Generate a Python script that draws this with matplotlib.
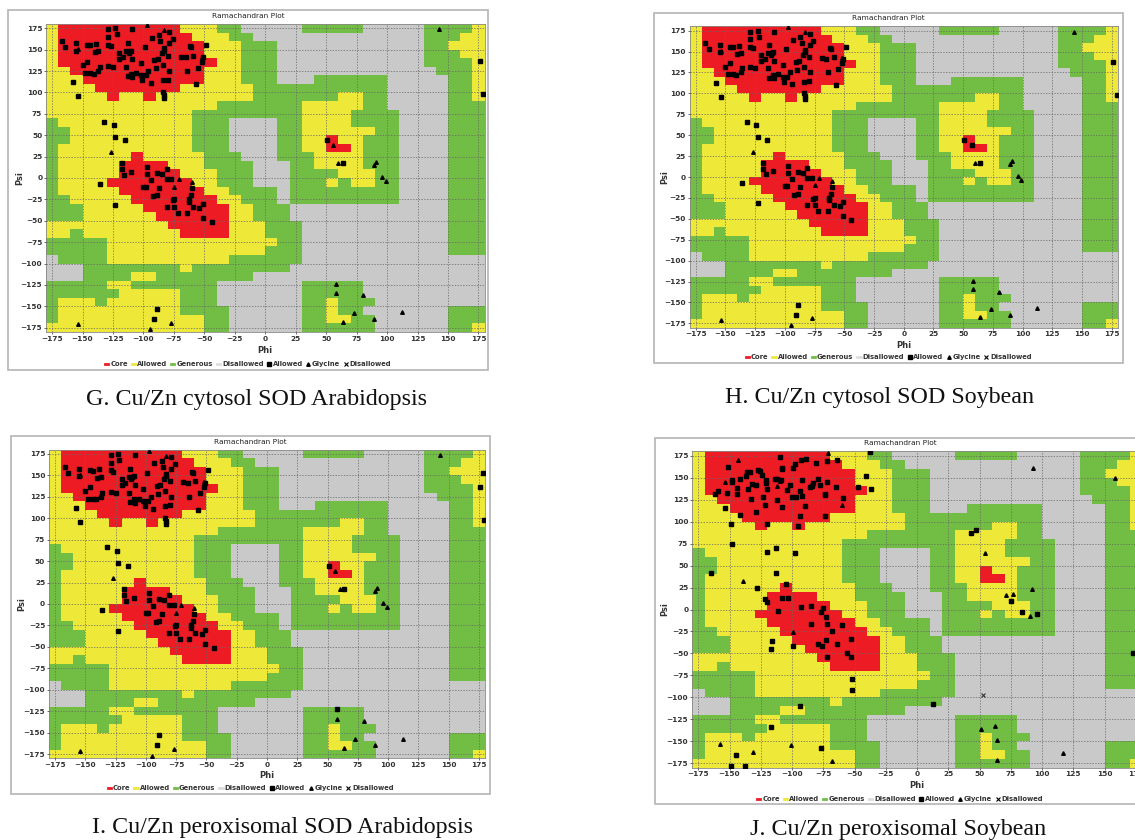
import re
import numpy as np
import matplotlib
matplotlib.use("Agg")
import matplotlib.pyplot as plt
from matplotlib.colors import ListedColormap
from matplotlib.lines import Line2D
from matplotlib.patches import Rectangle

W, H = 1135, 840

# Ramachandran region map, 10 degree cells.
# One row per psi band, from psi=+180 (top) down to -180, phi from -180 to 180.
# run-length coded: R core, Y allowed, G generous, D disallowed
region_rows = [
    "Y1R10Y3G2D5G5D5G4Y1",
    "Y1R11Y3G2D14G3Y2",
    "Y1R12Y3G3D12G2Y3",
    "Y1R12Y3G3D12G3Y2",
    "Y1R13Y2G3D12G4Y1",
    "Y2R11Y3G3D13G3Y1",
    "Y3R10Y3G3D3G6D5G2Y1",
    "Y4R7Y6G11D5G2Y1",
    "Y5R1Y2R1Y8G7Y2G2D5G2Y1",
    "Y14G7Y5G2D5G3",
    "Y12G9Y4G4D4G3",
    "G1Y11G3D4G2Y4G4D4G3",
    "G2Y10G3D4G2Y6G2D4G3",
    "G2Y10G3D4G2Y2R1Y2G3D4G3",
    "G1Y11G3D4G2Y2R2Y1G3D4G3",
    "G1Y6R1Y5G3D3G3Y4G3D4G3",
    "G1Y5R4Y3G4D3G2Y4G3D4G3",
    "G1Y5R5Y3G3D3G4Y3G2D4G3",
    "G1Y4R7Y2G3D3G3Y1G1Y2G2D4G3",
    "G1Y5R7Y2G4D1G9D4G3",
    "G2Y5R7Y2G3D1G9D4G3",
    "G3Y5R7Y2G3D13G3",
    "G3Y6R6Y2G3D13G3",
    "Y10R5Y3G3D12G3",
    "Y2G1Y8R4Y3G3D12G3",
    "G5Y14G2D12G3",
    "G5Y13G3D12G3",
    "D1G4Y10G6D15",
    "D3G8Y1G8D16",
    "D3G4Y2G8D19",
    "G5Y2G7D7G5D10",
    "G6Y5G3D7G5D10",
    "G1Y3G1Y6G3D7G2Y1G3D9",
    "G1Y10G4D6G2Y1G2D7G3",
    "G1Y12G2D6G2Y2G2D6G3",
    "Y13G2D6G6D6G2Y1",
]
region_colors = ["#ed1c24", "#eee838", "#72be44", "#c9c9c9"]  # core, allowed, generous, disallowed

# residues (phi, psi) of panel G
g_squares = [
    (-167, 160), (-164, 153), (-155, 158), (-155, 149), (-146, 156), (-144, 155), (-139, 157),
    (-140, 147), (-137, 148), (-129, 174), (-123, 175), (-109, 174), (-129, 165), (-122, 168),
    (-129, 156), (-127, 154), (-120, 146), (-113, 158), (-114, 148), (-112, 146), (-111, 148),
    (-110, 149), (-99, 153), (-93, 164), (-87, 167), (-86, 160), (-79, 171), (-76, 163), (-79, 158),
    (-83, 149), (-83, 152), (-85, 146), (-80, 143), (-88, 139), (-91, 138), (-69, 142), (-65, 141),
    (-59, 143), (-62, 154), (-61, 153), (-49, 156), (-52, 136), (-51, 141), (-55, 129), (-64, 125),
    (-79, 125), (-80, 115), (-84, 114), (-94, 111), (-101, 114), (-102, 120), (-106, 123),
    (-109, 118), (-113, 119), (-114, 130), (-109, 139), (-102, 134), (-96, 125), (-90, 128),
    (-84, 132), (-150, 132), (-146, 136), (-148, 123), (-144, 123), (-141, 122), (-137, 125),
    (-136, 130), (-129, 131), (-125, 130), (-120, 139), (-117, 141), (-98, 120), (-110, 122),
    (-158, 112), (-154, 96), (-84, 100), (-83, 97), (-83, 93), (-57, 110),
    (-132, 66), (-124, 62), (-123, 48), (-115, 44), (-136, -7), (-123, -31),
    (-118, 17), (-118, 10), (-116, 3), (-110, 7), (-97, 13), (-97, 5), (-94, -2), (-100, -11),
    (-98, -11), (-89, 6), (-85, 5), (-81, 11), (-81, -1), (-77, -1), (-87, -12), (-89, -20),
    (-92, -21), (-81, -34), (-76, -26), (-75, -25), (-75, -34), (-72, -41), (-64, -41), (-63, -28),
    (-63, -25), (-61, -20), (-59, -34), (-54, -35), (-51, -30), (-51, -47), (-44, -51), (-60, -12),
    (51, 44), (64, 17), (176, 137), (179, 98), (-89, -153), (-91, -165),
]
g_glycine = [
    (-97, 179), (-83, 173), (-52, 142), (-154, 151), (-127, 30), (-71, -1), (-75, -10), (-60, -5),
    (56, 38), (60, 17), (89, 15), (91, 19), (96, 1), (99, -3), (143, 174), (58, -124), (58, -134),
    (80, -137), (73, -158), (64, -168), (89, -165), (112, -157), (-154, -171), (-77, -169), (-95, -177),
]

# panel H is nearly the same as G
h_squares = g_squares + [(57, 38)]
h_glycine = [p for p in g_glycine if p != (56, 38)]

# panel I
i_squares = g_squares + [(58, -123), (178, 153)]
i_glycine = [p for p in g_glycine if p != (58, -124)]

# panel J
j_squares = [
    (-162, 131), (-159, 135), (-154, 116), (-152, 133), (-151, 162), (-149, 97), (-148, 75),
    (-148, 145), (-148, 147), (-144, 138), (-144, 131), (-142, 148), (-142, 107), (-137, 152),
    (-136, 156), (-135, 137), (-134, 156), (-133, 126), (-132, 143), (-129, 142), (-129, 111),
    (-127, 159), (-126, 158), (-124, 153), (-123, 128), (-122, 119), (-121, 147), (-121, 144),
    (-120, 137), (-120, 97), (-114, 148), (-112, 149), (-112, 125), (-110, 174), (-108, 161),
    (-108, 160), (-109, 147), (-108, 117), (-104, 136), (-102, 142), (-100, 128), (-97, 128),
    (-99, 161), (-98, 165), (-94, 135), (-94, 106), (-95, 95), (-93, 170), (-92, 147), (-92, 129),
    (-90, 118), (-89, 171), (-86, 139), (-84, 141), (-83, 144), (-81, 167), (-79, 149), (-78, 142),
    (-74, 106), (-74, 130), (-74, 131), (-72, 169), (-72, 145), (-65, 139), (-64, 170), (-59, 127),
    (-47, 139), (-41, 152), (-37, 137), (-38, 179),
    (-120, 65), (-113, 70), (-98, 64), (-165, 42), (-113, 42), (-128, 25), (-105, 29),
    (-122, 12), (-120, 8), (-111, -2), (-108, 13), (-103, 13), (-93, 3), (-85, 4), (-75, 2),
    (-77, -3), (-73, -9), (-85, -16), (-72, -16), (-60, -18), (-68, -24), (-116, -36), (-117, -45),
    (-99, -42), (-79, -39), (-76, -42), (-73, -35), (-64, -39), (-53, -34), (-56, -49), (-53, -54),
    (-72, -54), (-52, -79), (-52, -92), (13, -107), (-94, -110), (-117, -134), (-77, -158),
    (-145, -166), (-149, -178), (-138, -178), (173, -49),
    (43, 87), (47, 91), (75, 10), (84, -3), (96, -5),
]
j_glycine = [
    (-154, 145), (-143, 170), (-112, 141), (-110, 146), (-60, 119), (-139, 32), (-71, 178),
    (54, 64), (71, 17), (77, 18), (92, 23), (90, -7), (93, 161), (158, 150),
    (-99, -26), (-158, -153), (-131, -162), (-101, -154), (-68, -172), (51, -136), (62, -132),
    (64, -148), (64, -171), (117, -163),
]
j_disallowed = [(53, -97)]

ticks = list(range(-175, 176, 25))
captions = [
    "G. Cu/Zn cytosol SOD Arabidopsis",
    "H. Cu/Zn cytosol SOD Soybean",
    "I. Cu/Zn peroxisomal SOD Arabidopsis",
    "J. Cu/Zn peroxisomal Soybean",
]
legend_labels = ["Core", "Allowed", "Generous", "Disallowed", "Allowed", "Glycine", "Disallowed"]


def decode_rows(rows):
    code = {"R": 0, "Y": 1, "G": 2, "D": 3}
    grid = []
    for r in rows:
        line = []
        for ch, n in re.findall(r"([RYGD])(\d+)", r):
            line += [code[ch]] * int(n)
        assert len(line) == 36, r
        grid.append(line)
    return np.flipud(np.array(grid))


region_grid = decode_rows(region_rows)
edges = np.arange(-180, 181, 10)
cmap = ListedColormap(region_colors)


def fx(x):
    return x / W


def fy(y):
    return 1 - y / H


def draw_panel(frame, box, title_y, phi_y, psi_x, legend_y, caption, caption_xy,
               squares, glycine, crosses=()):
    # white panel with light border
    fl, ft, fr, fb = frame
    fig.add_artist(Rectangle((fx(fl), fy(fb)), fx(fr - fl), (fb - ft) / H,
                             transform=fig.transFigure, facecolor="white",
                             edgecolor="#b4b4b4", lw=1.2, zorder=0))
    l, t, r, b = box
    ax = fig.add_axes([fx(l), fy(b), fx(r - l), (b - t) / H])
    ax.pcolormesh(edges, edges, region_grid, cmap=cmap, vmin=-0.5, vmax=3.5, zorder=1)

    if squares:
        sp, ss = zip(*squares)
        ax.plot(sp, ss, "s", color="black", ms=2.8, zorder=4)
    if glycine:
        gp, gs = zip(*glycine)
        ax.plot(gp, gs, "^", color="black", ms=2.6, zorder=4)
    if crosses:
        cp, cs = zip(*crosses)
        ax.plot(cp, cs, "x", color="#333333", ms=3, mew=0.8, zorder=4)

    ax.set_xlim(-180, 180)
    ax.set_ylim(-180, 180)
    ax.set_xticks(ticks)
    ax.set_yticks(ticks)
    ax.set_axisbelow(False)
    ax.grid(True, color="#666666", ls=(0, (2, 2)), lw=0.5)
    ax.tick_params(labelsize=5.3, length=1.5, width=0.5, pad=1.2, colors="#333333")
    for lab in ax.get_xticklabels() + ax.get_yticklabels():
        lab.set_fontweight("bold")
    for s in ax.spines.values():
        s.set_color("#888888")
        s.set_linewidth(0.6)

    cx = (fl + fr) / 2
    fig.text(cx / W, fy(title_y), "Ramachandran Plot", ha="center", va="center",
             fontsize=5.3, color="#222222")
    fig.text(fx((l + r) / 2), fy(phi_y), "Phi", ha="center", va="center",
             fontsize=6, fontweight="bold", color="#333333")
    fig.text(fx(psi_x), fy((t + b) / 2), "Psi", ha="center", va="center",
             rotation=90, fontsize=6, fontweight="bold", color="#333333")

    handles = [Line2D([], [], color=c, lw=2) for c in region_colors[:3]]
    handles.append(Line2D([], [], color="#dddddd", lw=2))
    handles += [Line2D([], [], marker="s", color="black", ls="none", ms=2.5),
                Line2D([], [], marker="^", color="black", ls="none", ms=2.5),
                Line2D([], [], marker="x", color="black", ls="none", ms=2.5, mew=0.8)]
    leg = fig.legend(handles, legend_labels, loc="center", bbox_to_anchor=(cx / W, fy(legend_y)),
                     ncol=7, frameon=False, fontsize=4.9, handlelength=0.5, handletextpad=0.3,
                     columnspacing=0.55, borderpad=0)
    for txt in leg.get_texts():
        txt.set_fontweight("bold")
        txt.set_color("#333333")

    fig.text(fx(caption_xy[0]), fy(caption_xy[1]), caption, ha="center", va="center",
             fontsize=17.3, family="Liberation Serif", color="#111111")
    return ax


fig = plt.figure(figsize=(W / 100, H / 100), dpi=100)
fig.patch.set_facecolor("white")

draw_panel((8, 10, 488, 370), (46, 24, 484.5, 332), 16, 350, 20, 364,
           captions[0], (256, 399), g_squares, g_glycine)
draw_panel((654, 13, 1123, 363), (689.8, 26.5, 1117.7, 327.5), 18, 345, 665, 357,
           captions[1], (880, 397), h_squares, h_glycine)
draw_panel((11, 436, 490, 794), (48.9, 449.7, 485, 758.3), 442, 775, 22, 788,
           captions[2], (283, 828), i_squares, i_glycine)
draw_panel((655, 438, 1145, 804), (692, 451.3, 1142, 767.7), 443, 785, 665, 799,
           captions[3], (898, 830), j_squares, j_glycine, j_disallowed)

fig.savefig("out.png", dpi=100, facecolor="white")
